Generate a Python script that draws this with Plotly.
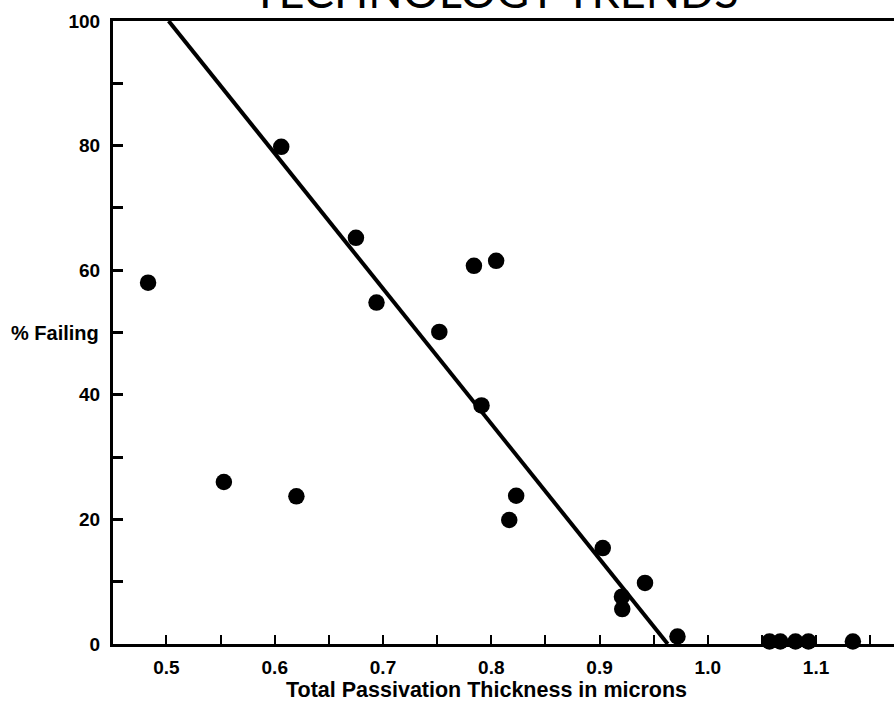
import plotly.graph_objects as go

# Data
thickness = [0.483, 0.553, 0.606, 0.620, 0.675, 0.694, 0.752, 0.784, 0.791,
             0.8045, 0.8166, 0.823, 0.903, 0.9207, 0.921, 0.942, 0.972,
             1.057, 1.067, 1.081, 1.093, 1.134]
pct_failing = [58.0, 26.0, 79.8, 23.7, 65.2, 54.8, 50.1, 60.7, 38.3,
               61.5, 19.9, 23.8, 15.4, 7.6, 5.6, 9.8, 1.2,
               0.4, 0.4, 0.4, 0.4, 0.4]

# Trend line end points
trend_x = [0.502, 0.963]
trend_y = [100, 0]

x_tickvals = [0.5, 0.55, 0.6, 0.65, 0.7, 0.75, 0.8, 0.85, 0.9, 0.95, 1.0, 1.05, 1.1, 1.15]
x_ticktext = ["0.5", "", "0.6", "", "0.7", "", "0.8", "", "0.9", "", "1.0", "", "1.1", ""]
y_tickvals = [0, 10, 20, 30, 40, 50, 60, 70, 80, 90, 100]
y_ticktext = ["0", "", "20", "", "40", "", "60", "", "80", "", "100"]

title_text = "TECHNOLOGY TRENDS"
x_title = "Total Passivation Thickness in microns"
y_title = "% Failing"

FONT = "Liberation Sans, Arial, sans-serif"

fig = go.Figure()
fig.add_trace(go.Scatter(x=trend_x, y=trend_y, mode="lines",
                         line=dict(color="black", width=4), hoverinfo="skip",
                         showlegend=False))
fig.add_trace(go.Scatter(x=thickness, y=pct_failing, mode="markers",
                         marker=dict(color="black", size=16.5),
                         showlegend=False, cliponaxis=False))

fig.update_layout(
    width=894, height=712,
    margin=dict(l=113, r=0, t=21, b=68),
    plot_bgcolor="white", paper_bgcolor="white",
    showlegend=False,
    xaxis=dict(range=[0.4506, 1.172], tickmode="array", tickvals=x_tickvals,
               ticktext=x_ticktext, ticks="inside", ticklen=9, tickwidth=2,
               tickcolor="black", showline=True, linecolor="black", linewidth=3,
               mirror=True, showgrid=False, zeroline=False,
               ticklabelstandoff=4,
               tickfont=dict(family=FONT, size=19, color="black", weight="bold")),
    yaxis=dict(range=[0, 100], tickmode="array", tickvals=y_tickvals,
               ticktext=y_ticktext, ticks="inside", ticklen=10, tickwidth=2.5,
               tickcolor="black", showline=True, linecolor="black", linewidth=3,
               showgrid=False, zeroline=False,
               tickfont=dict(family=FONT, size=19, color="black", weight="bold"),
               ticklabelstandoff=6),
    annotations=[
        dict(text=title_text, xref="paper", yref="paper",
             x=(495 - 113) / 781, y=1, yanchor="bottom", xanchor="center",
             yshift=1, showarrow=False,
             font=dict(family="Lato, Inter, sans-serif", size=45, color="black")),
        dict(text=y_title, xref="paper", yref="y",
             x=(101 - 113) / 781, y=50, xanchor="right", yanchor="middle",
             showarrow=False,
             font=dict(family=FONT, size=20, color="black", weight="bold")),
        dict(text=x_title, xref="paper", yref="paper",
             x=(486 - 113) / 781, y=-(690 - 644) / 623, xanchor="center",
             yanchor="middle", showarrow=False,
             font=dict(family=FONT, size=21.5, color="black", weight="bold")),
    ],
)

fig.write_html("out.html", config={"displayModeBar": False},
               post_script="document.body.style.margin='0';")
